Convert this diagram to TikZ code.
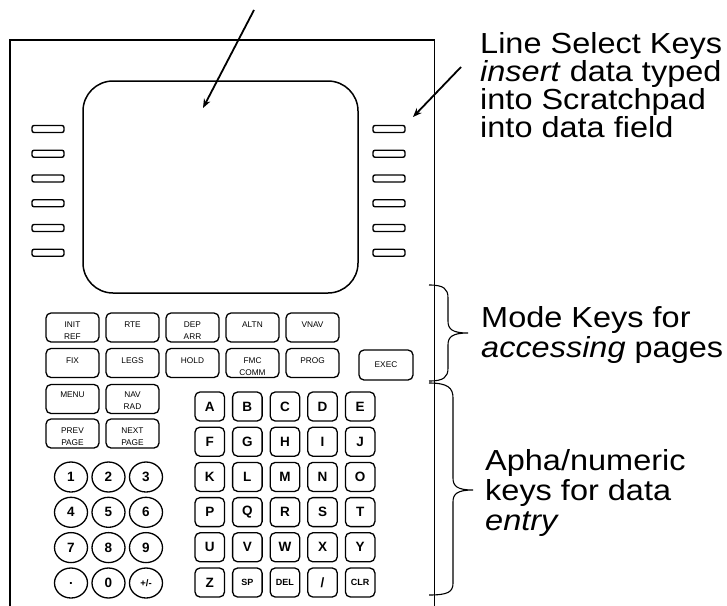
\documentclass[tikz,border=0pt]{standalone}
\usepackage{fontspec}
\usepackage{graphicx}
\setmainfont{Liberation Sans}
\usetikzlibrary{arrows.meta,shapes.geometric}
\newcommand\widetxt[1]{\scalebox{1.12}[1]{#1}}
\begin{document}
\begin{tikzpicture}[x=1pt,y=-1pt,
  frameline/.style={line width=1.3pt},
  lsk/.style={draw, line width=1.4pt, rounded corners=2pt, minimum width=32pt, minimum height=7pt, inner sep=0pt},
  modekey/.style={draw, line width=1.3pt, rounded corners=5pt, minimum width=53pt, minimum height=29pt, inner sep=0pt},
  keytxt/.style={font=\fontsize{8.3}{11.5}\selectfont, align=center, inner sep=0pt, anchor=north},
  alphakey/.style={draw, line width=1.3pt, rounded corners=5pt, minimum width=29.5pt, minimum height=29pt, inner sep=0pt, font=\fontsize{13.5}{13.5}\selectfont\bfseries},
  smallkey/.style={alphakey, font=\fontsize{9}{9}\selectfont\bfseries},
  numkey/.style={draw, ellipse, line width=1.3pt, minimum width=33pt, minimum height=30pt, inner sep=0pt, font=\fontsize{13.5}{13.5}\selectfont\bfseries},
  anno/.style={font=\fontsize{29}{29}\selectfont, anchor=base west, inner sep=0pt},
  pointer/.style={line width=1.8pt, -{Stealth[length=9pt,width=7pt]}},
  bracepath/.style={line width=1.1pt}
]
\useasboundingbox (0,0) rectangle (727,605);
% frame
\draw[frameline] (10,606) |- (434.5,40) -- (434.5,606);
% screen
\node[draw, line width=1.5pt, rounded corners=30pt, minimum width=275pt, minimum height=212pt, inner sep=0pt] (screen) at (220.5,187) {};
% line select keys
\foreach \i in {0,...,5} {
  \node[lsk] (lskL\i) at (48,{129+24.75*\i}) {};
  \node[lsk] (lskR\i) at (389,{129+24.75*\i}) {};
}
% arrows
\coordinate (a1s) at (254,10);
\coordinate (a1e) at (203,108);
\draw[pointer] (a1s) -- (a1e);
\coordinate (a2s) at (461,67);
\coordinate (a2e) at (413,117);
\draw[pointer] (a2s) -- (a2e);
% mode keys row 1
\node[modekey] (init) at (72.5,327.5) {};
\node[keytxt] (init-t) at (72.5,322) {INIT\\REF};
\node[modekey] (rte) at (132.5,327.5) {};
\node[keytxt] (rte-t) at (132.5,322) {RTE};
\node[modekey] (dep) at (192.5,327.5) {};
\node[keytxt] (dep-t) at (192.5,322) {DEP\\ARR};
\node[modekey] (altn) at (252.5,327.5) {};
\node[keytxt] (altn-t) at (252.5,322) {ALTN};
\node[modekey] (vnav) at (312.5,327.5) {};
\node[keytxt] (vnav-t) at (312.5,322) {VNAV};
% row 2
\node[modekey] (fix) at (72.5,363) {};
\node[keytxt] (fix-t) at (72.5,357.5) {FIX};
\node[modekey] (legs) at (132.5,363) {};
\node[keytxt] (legs-t) at (132.5,357.5) {LEGS};
\node[modekey] (hold) at (192.5,363) {};
\node[keytxt] (hold-t) at (192.5,357.5) {HOLD};
\node[modekey] (fmc) at (252.5,363) {};
\node[keytxt] (fmc-t) at (252.5,357.5) {FMC\\COMM};
\node[modekey] (prog) at (312.5,363) {};
\node[keytxt] (prog-t) at (312.5,357.5) {PROG};
\node[modekey, minimum width=54pt, minimum height=30pt] (exec) at (386,365) {};
\node[keytxt] (exec-t) at (386,361.5) {EXEC};
% menu etc
\node[modekey] (menu) at (72.5,399) {};
\node[keytxt] (menu-t) at (72.5,392) {MENU};
\node[modekey] (nav) at (132.5,399) {};
\node[keytxt] (nav-t) at (132.5,392) {NAV\\RAD};
\node[modekey] (prev) at (72.5,433.5) {};
\node[keytxt] (prev-t) at (72.5,428) {PREV\\PAGE};
\node[modekey] (next) at (132.5,433.5) {};
\node[keytxt] (next-t) at (132.5,428) {NEXT\\PAGE};
% numeric keys
\foreach \t [count=\n from 0] in {1,2,3,4,5,6,7,8,9} {
  \pgfmathtruncatemacro\c{mod(\n,3)}
  \pgfmathtruncatemacro\r{int(\n/3)}
  \node[numkey] (num\n) at ({71+37.5*\c},{477+35.3*\r}) {\t};
}
\node[numkey] (numdot) at (71,583) {.};
\node[numkey] (num0) at (108.5,583) {0};
\node[numkey, font=\fontsize{9.5}{9.5}\selectfont\bfseries] (numpm) at (146,583) {+/-};
% alpha keys
\foreach \t [count=\n from 0] in {A,B,C,D,E,F,G,H,I,J,K,L,M,N,O,P,Q,R,S,T,U,V,W,X,Y} {
  \pgfmathtruncatemacro\c{mod(\n,5)}
  \pgfmathtruncatemacro\r{int(\n/5)}
  \node[alphakey] (k\n) at ({209.75+37.6*\c},{406.5+35.2*\r}) {\t};
}
\node[alphakey] (kZ) at (209.75,582.5) {Z};
\node[smallkey] (kSP) at (247.35,582.5) {SP};
\node[smallkey] (kDEL) at (284.95,582.5) {DEL};
\node[alphakey] (kSL) at (322.55,582.5) {/};
\node[smallkey] (kCLR) at (360.15,582.5) {CLR};
% braces
\draw[bracepath] (429,285) .. controls (444,285) and (448,289) .. (448,298) -- (448,321)
  .. controls (448,329) and (452,333) .. (468,333)
  .. controls (452,333) and (448,337) .. (448,345) -- (448,368)
  .. controls (448,377) and (444,381) .. (429,381);
\draw[bracepath] (429,383) .. controls (448,383) and (453,388) .. (453,398) -- (453,478)
  .. controls (453,486) and (457,490) .. (473,490)
  .. controls (457,490) and (453,494) .. (453,502) -- (453,583)
  .. controls (453,592) and (448,595) .. (429,595);
% annotations
\node[anno] (t1) at (480,53) {\widetxt{Line Select Keys}};
\node[anno] (t2) at (480,81) {\widetxt{\textit{insert} data typed}};
\node[anno] (t3) at (480,109) {\widetxt{into Scratchpad}};
\node[anno] (t4) at (480,137) {\widetxt{into data field}};
\node[anno] (t5) at (481,327) {\widetxt{Mode Keys for}};
\node[anno] (t6) at (481,357) {\widetxt{\textit{accessing} pages}};
\node[anno] (t7) at (485,470) {\widetxt{Apha/numeric}};
\node[anno] (t8) at (485,500) {\widetxt{keys for data}};
\node[anno] (t9) at (485,530) {\widetxt{\textit{entry}}};
\end{tikzpicture}
\end{document}
